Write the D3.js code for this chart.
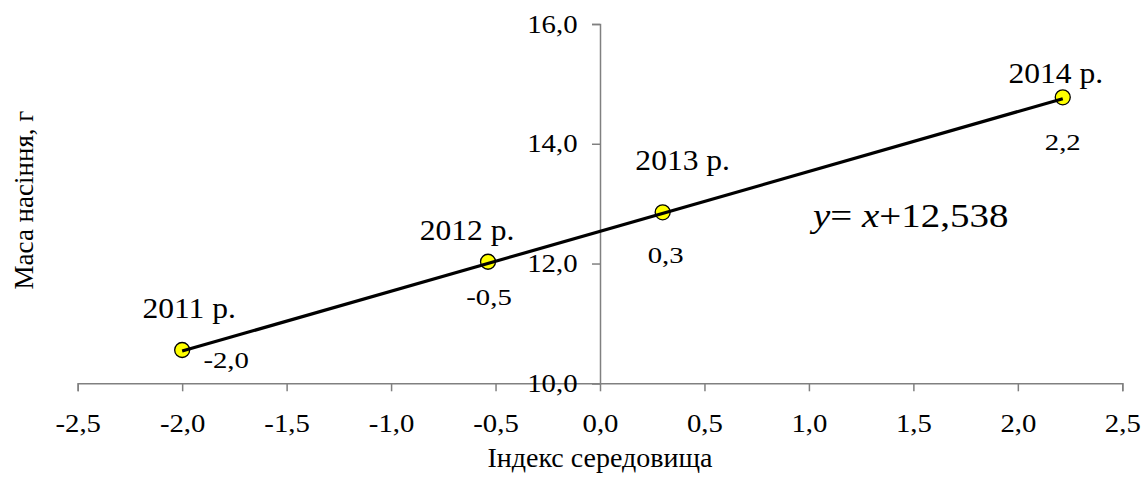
<!DOCTYPE html>
<html>
<head>
<meta charset="utf-8">
<script src="https://cdn.jsdelivr.net/npm/d3@7"></script>
<style>
  html, body { margin: 0; padding: 0; background: #fff; }
  svg { display: block; }
</style>
</head>
<body>
<svg id="chart" width="1147" height="482" font-family="Liberation Serif"></svg>
<script>
// Environment index per year and seed mass (g)
const years = ["2011 р.", "2012 р.", "2013 р.", "2014 р."];
const envIndex = [-2.0, -0.536, 0.30, 2.215];
const seedMass = [10.556, 12.03, 12.855, 14.775];

// Regression line y = b·x + a
const slope = 1;
const intercept = 12.538;

const xTicks = [-2.5, -2.0, -1.5, -1.0, -0.5, 0.0, 0.5, 1.0, 1.5, 2.0, 2.5];
const yTicks = [10, 12, 14, 16];

const SERIF = "Liberation Serif";
const svg = d3.select("#chart");
const x = d3.scaleLinear().domain([-2.5, 2.5]).range([77.7, 1122.3]);
const y = d3.scaleLinear().domain([10, 16]).range([383.3, 24]);

const fmt = v => d3.format(".1f")(v).replace(".", ",").replace("−", "-");
const axisColor = "#808080";

// Widen glyphs horizontally around each text's anchor point
function widen(sel, sx) {
  sel.each(function () {
    const t = d3.select(this);
    const tx = +t.attr("x") || 0, ty = +t.attr("y") || 0;
    t.attr("x", 0).attr("y", 0).attr("transform", `translate(${tx},${ty}) scale(${sx},1)`);
  });
}

// X axis at y = 10
const gx = svg.append("g").attr("transform", `translate(0,${y(10)})`)
  .call(d3.axisBottom(x).tickValues(xTicks).tickSize(8).tickPadding(23).tickFormat(fmt))
  .attr("font-family", SERIF);
gx.select(".domain").attr("stroke", axisColor).attr("stroke-width", 1.5);
gx.selectAll(".tick line").attr("stroke", axisColor).attr("stroke-width", 1.5);
gx.selectAll(".tick text").attr("font-size", 25).attr("fill", "#000").call(widen, 1.15);

// Y axis at x = 0
const gy = svg.append("g").attr("transform", `translate(${x(0)},0)`)
  .call(d3.axisLeft(y).tickValues(yTicks).tickSize(8).tickPadding(14.5).tickFormat(fmt))
  .attr("font-family", SERIF);
gy.select(".domain").attr("stroke", axisColor).attr("stroke-width", 1.5);
gy.selectAll(".tick line").attr("stroke", axisColor).attr("stroke-width", 1.5);
gy.selectAll(".tick text").attr("font-size", 25).attr("fill", "#000").call(widen, 1.15);

// Axis titles
svg.append("text")
  .attr("x", x(0)).attr("y", 467)
  .attr("text-anchor", "middle").attr("font-size", 28)
  .text("Індекс середовища");
svg.append("text")
  .attr("transform", "translate(33,200) rotate(-90)")
  .attr("text-anchor", "middle").attr("font-size", 27)
  .text("Маса насіння, г");

// Points
const pts = years.map((yr, i) => ({ yr, xi: envIndex[i], m: seedMass[i] }));
svg.append("g").selectAll("circle").data(pts).join("circle")
  .attr("cx", d => x(d.xi)).attr("cy", d => y(d.m)).attr("r", 7.5)
  .attr("fill", "#ffff00").attr("stroke", "#000").attr("stroke-width", 1.3);

// Trend line across the observed index range
const xMin = d3.min(envIndex), xMax = d3.max(envIndex);
svg.append("line")
  .attr("x1", x(xMin)).attr("y1", y(slope * xMin + intercept))
  .attr("x2", x(xMax)).attr("y2", y(slope * xMax + intercept))
  .attr("stroke", "#000").attr("stroke-width", 3.2);

// Year labels and index labels
const yearOff = [[7, -32], [-21, -22], [20, -42], [-7, -14]];
const valOff = [[44, 18], [1, 43], [3, 51], [0, 53]];
svg.append("g").selectAll("text").data(pts).join("text")
  .attr("x", (d, i) => x(d.xi) + yearOff[i][0])
  .attr("y", (d, i) => y(d.m) + yearOff[i][1])
  .attr("text-anchor", "middle").attr("font-size", 29.5)
  .text(d => d.yr)
  .call(widen, 1.07);
svg.append("g").selectAll("text").data(pts).join("text")
  .attr("x", (d, i) => x(d.xi) + valOff[i][0])
  .attr("y", (d, i) => y(d.m) + valOff[i][1])
  .attr("text-anchor", "middle").attr("font-size", 23)
  .text(d => fmt(d.xi))
  .call(widen, 1.25);

// Equation
const eq = svg.append("text").attr("x", 813).attr("y", 227).attr("font-size", 34.5);
eq.append("tspan").attr("font-style", "italic").text("y");
eq.append("tspan").text("= ");
eq.append("tspan").attr("font-style", "italic").text("x");
eq.append("tspan").text("+" + d3.format(".3f")(intercept).replace(".", ","));
eq.call(widen, 1.13);
</script>
</body>
</html>
